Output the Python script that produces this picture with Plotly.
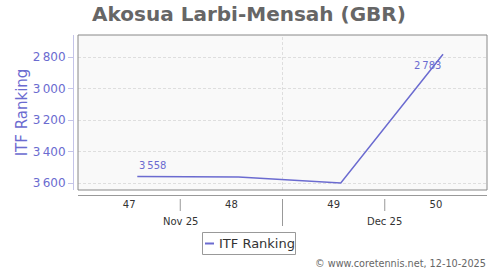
import plotly.graph_objects as go

weeks = [47, 48, 49, 50]
week_pos = [47.08, 48.07, 49.07, 50.07]
ranking = [3558, 3562, 3600, 2783]
labelled = [0, 3]
series_name = "ITF Ranking"
month_labels = ["Nov 25", "Dec 25"]
month_pos = [47.5, 49.5]
week_boundaries = [47.5, 48.5, 49.5]
month_boundary = 48.5
y_ticks = [2800, 3000, 3200, 3400, 3600]

LINE = "#6b6bd0"
FONT = "DejaVu Sans"
GRID_DASH = "3px,2px"

def fmt(v):
    s = f"{v:,}"
    return s.replace(",", "\u2009")

fig = go.Figure()
fig.add_trace(go.Scatter(
    x=week_pos, y=ranking, mode="lines", name=series_name,
    line=dict(color=LINE, width=1.5), hoverinfo="skip", showlegend=False))

L, R, T, B = 40, 13, 35, 50
W, H = 500, 270
pw = W - L - R
ph = H - T - B
x0 = (78 - L) / pw
y0 = (H - B - 190) / ph

def px(xp):
    return (xp - L) / pw

def py(yp):
    return (H - B - yp) / ph

fig.update_layout(
    width=W, height=H,
    margin=dict(l=L, r=R, t=T, b=B, pad=0, autoexpand=False),
    paper_bgcolor="white", plot_bgcolor="#f9f9f9",
    separators=".\u2009",
    font=dict(family=FONT, color="#333"),
    title=dict(text="<b>Akosua Larbi-Mensah (GBR)</b>", x=0.498, xref="container",
               xanchor="center", y=1 - 14 / H, yanchor="middle",
               font=dict(size=20, color="#666", family=FONT)),
    showlegend=False,
    xaxis=dict(domain=[x0, 1], range=[46.5, 50.5], anchor="free",
               position=py(195),
               tickmode="array", tickvals=weeks, ticktext=[str(w) for w in weeks],
               showline=True, linecolor="#999", linewidth=1,
               ticks="", showgrid=False, zeroline=False,
               tickfont=dict(size=10, color="#333", family=FONT)),
    yaxis=dict(domain=[y0, 1], range=[3644.4, 2660.3], anchor="free",
               position=px(73),
               tickmode="array", tickvals=y_ticks, separatethousands=True,
               showline=True, linecolor="#c4c4e8", linewidth=1,
               ticks="outside", ticklen=5, tickcolor="#c4c4e8",
               showgrid=True, gridcolor="#dedede", griddash=GRID_DASH, gridwidth=1,
               zeroline=False,
               tickfont=dict(size=12, color="#6b6bd0", family=FONT),
               title=dict(text=series_name, standoff=0,
                          font=dict(size=15, color="#6b6bd0", family=FONT))),
)

shapes = []
shapes.append(dict(type="rect", xref="x domain", yref="y domain", x0=0, x1=1, y0=0, y1=1,
                   line=dict(color="#888", width=1), layer="above"))
shapes.append(dict(type="line", xref="x", yref="y domain", x0=month_boundary, x1=month_boundary,
                   y0=0, y1=1, line=dict(color="#dedede", width=1, dash=GRID_DASH), layer="below"))
for b in week_boundaries:
    long = (b == month_boundary)
    shapes.append(dict(type="line", xref="x", yref="paper", x0=b, x1=b,
                       y0=py(199), y1=py(226 if long else 211),
                       line=dict(color="#999", width=1)))

ann = []
for m, p in zip(month_labels, month_pos):
    ann.append(dict(text=m, x=p, xref="x", y=py(221), yref="paper",
                    showarrow=False, xanchor="center", yanchor="middle",
                    font=dict(size=10, color="#333", family=FONT)))
for i in labelled:
    up = i == 0
    ann.append(dict(text=fmt(ranking[i]), x=week_pos[i], y=ranking[i], xref="x", yref="y",
                    showarrow=False,
                    xanchor="left" if up else "right",
                    yanchor="bottom" if up else "top",
                    yshift=3 if up else -4,
                    font=dict(size=10, color=LINE, family=FONT)))
# legend box
shapes.append(dict(type="rect", xref="paper", yref="paper", x0=px(202.5), x1=px(295.5),
                   y0=py(254.5), y1=py(232.5), fillcolor="white",
                   line=dict(color="#999", width=1), layer="above"))
shapes.append(dict(type="line", xref="paper", yref="paper", x0=px(205), x1=px(214),
                   y0=py(243.5), y1=py(243.5), line=dict(color=LINE, width=2), layer="above"))
ann.append(dict(text=series_name, xref="paper", yref="paper",
                x=px(217), y=py(243.5), xanchor="left", yanchor="middle",
                showarrow=False, font=dict(size=13, color="#333", family=FONT)))
ann.append(dict(text="\u00a9 www.coretennis.net, 12-10-2025", xref="paper", yref="paper",
                x=px(488), y=py(263), xanchor="right", yanchor="middle",
                showarrow=False, font=dict(size=9.7, color="#666", family=FONT)))
fig.update_layout(annotations=ann, shapes=shapes)

fig.write_html("out.html")
